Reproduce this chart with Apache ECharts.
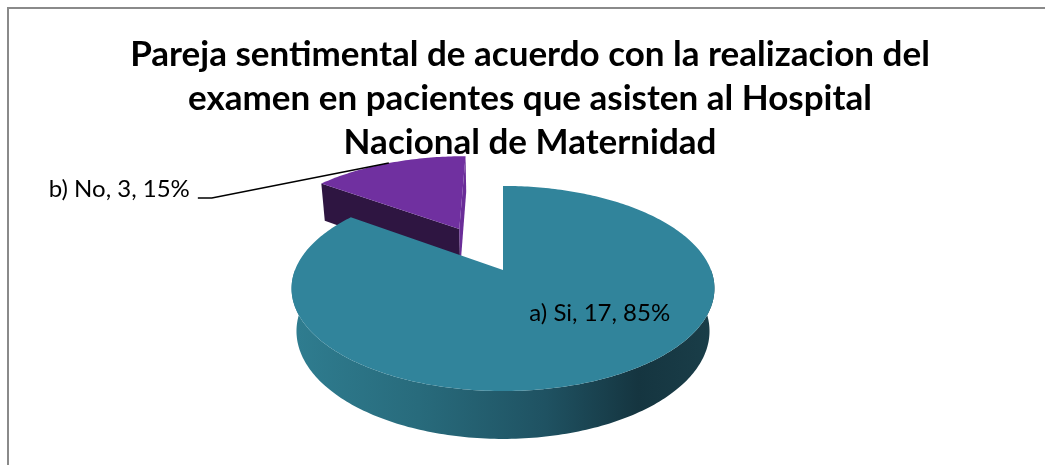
<!DOCTYPE html>
<html>
<head>
<meta charset="utf-8">
<script src="https://cdn.jsdelivr.net/npm/echarts@6/dist/echarts.min.js"></script>
<style>
  html, body { margin: 0; padding: 0; background: #ffffff; }
  #frame {
    position: absolute; left: 7px; top: 7px; width: 1100px; height: 520px;
    border-left: 2px solid #8a8a8a; border-top: 2px solid #8a8a8a;
  }
  #chart { position: absolute; left: 0; top: 0; width: 1045px; height: 465px; }
</style>
</head>
<body>
<div id="frame"></div>
<div id="chart"></div>
<script>
// ---- data ----
const titleLines = [
  'Pareja sentimental de acuerdo con la realizacion del',
  'examen en pacientes que asisten al Hospital',
  'Nacional de Maternidad'
];
const categories = ['a) Si', 'b) No'];
const counts = [17, 3];

// ---- look ----
const topColors = ['#31849b', '#7030a0'];
const wallColors = ['#1f5566', '#2e1541'];
const edgeColors = ['#24606f', '#6a2d98'];
const explode = { 'b) No': 0.5 };           // pull-out distance, in radii

// perspective camera for the tilted pie (unit radius)
const VIEW = { cx: 503, cy: 270, focal: 1015, dist: 4.88, tilt: 28.5, thick: 0.236 };
const INSIDE_LABEL = { radius: 0.59, turn: -20 };
const OUTSIDE_LABEL = { dx: -177, dy: 35, tail: 14, gap: 8, rise: 9 };

const total = counts.reduce((s, v) => s + v, 0);
const rad = d => d * Math.PI / 180;
const ct = Math.cos(rad(VIEW.tilt)), st = Math.sin(rad(VIEW.tilt));
const camera = [0, VIEW.dist * st, -VIEW.dist * ct];

function project(X, Y, Z) {
  const d = VIEW.dist + Z * ct - Y * st;
  const v = Z * st + Y * ct;
  return [VIEW.cx + VIEW.focal * X / d, VIEW.cy - VIEW.focal * v / d];
}

function arc(from, to, r, y, ox, oz) {
  const pts = [];
  const n = Math.max(2, Math.ceil(Math.abs(to - from)));
  for (let k = 0; k <= n; k++) {
    const a = rad(from + (to - from) * k / n);
    pts.push(project(ox + r * Math.sin(a), y, oz + r * Math.cos(a)));
  }
  return pts;
}

function renderSlice(params, api) {
  const i = params.dataIndex;
  const value = api.value(0);
  let before = 0;
  for (let k = 0; k < i; k++) before += counts[k];
  const a0 = before / total * 360;
  const a1 = (before + value) / total * 360;
  const mid = (a0 + a1) / 2;
  const ex = explode[categories[i]] || 0;
  const ox = Math.sin(rad(mid)) * ex, oz = Math.cos(rad(mid)) * ex;
  const H = VIEW.thick;

  // farther slices are painted first
  const depthZ = oz + 0.5 * Math.cos(rad(mid));
  const base = Math.round((10 - depthZ) * 100);
  const children = [];

  // flat cut faces at both ends of the slice
  [[a0, -1], [a1, 1]].forEach(([a, sgn]) => {
    const s = Math.sin(rad(a)), c = Math.cos(rad(a));
    const n = [sgn * c, 0, -sgn * s];
    const p = [ox + 0.5 * s, -H / 2, oz + 0.5 * c];
    const dot = n[0] * (camera[0] - p[0]) + n[1] * (camera[1] - p[1]) + n[2] * (camera[2] - p[2]);
    if (dot > 1e-6) {
      children.push({
        type: 'polygon', z2: base + 1,
        shape: { points: [
          project(ox, 0, oz), project(ox + s, 0, oz + c),
          project(ox + s, -H, oz + c), project(ox, -H, oz)
        ] },
        style: { fill: sgn < 0 ? wallColors[i] : edgeColors[i] }
      });
    }
  });

  // outer rim, front half only
  const lo = Math.max(a0, 90), hi = Math.min(a1, 270);
  if (hi > lo) {
    const up = arc(lo, hi, 1, 0, ox, oz);
    const down = arc(lo, hi, 1, -H, ox, oz).reverse();
    children.push({
      type: 'polygon', z2: base + 2,
      shape: { points: up.concat(down) },
      style: {
        fill: {
          type: 'linear', x: 0, y: 0, x2: 1, y2: 0,
          colorStops: [
            { offset: 0, color: '#2f7d90' },
            { offset: 0.3, color: '#286b7c' },
            { offset: 0.6, color: '#1f5262' },
            { offset: 0.82, color: '#153540' },
            { offset: 1, color: '#1a3e49' }
          ]
        }
      }
    });
  }

  // top face
  children.push({
    type: 'polygon', z2: base + 3,
    shape: { points: [project(ox, 0, oz)].concat(arc(a0, a1, 1, 0, ox, oz)) },
    style: { fill: topColors[i] }
  });

  // data label
  const pct = Math.round(value / total * 100);
  const text = categories[i] + ', ' + value + ', ' + pct + '%';
  const labelFont = '24px Lato';
  if (ex > 0) {
    const a = rad(mid);
    const start = project(ox + Math.sin(a), 0, oz + Math.cos(a));
    const elbow = [start[0] + OUTSIDE_LABEL.dx, start[1] + OUTSIDE_LABEL.dy];
    const end = [elbow[0] - OUTSIDE_LABEL.tail, elbow[1]];
    children.push({
      type: 'polyline', z2: 5000,
      shape: { points: [start, elbow, end] },
      style: { stroke: '#000000', lineWidth: 1.5, fill: null }
    });
    children.push({
      type: 'text', z2: 5001,
      x: end[0] - OUTSIDE_LABEL.gap, y: end[1] - OUTSIDE_LABEL.rise,
      style: { text: text, font: labelFont, fill: '#000000', align: 'right', verticalAlign: 'middle' }
    });
  } else {
    const a = rad(mid + INSIDE_LABEL.turn);
    const pos = project(ox + INSIDE_LABEL.radius * Math.sin(a), 0, oz + INSIDE_LABEL.radius * Math.cos(a));
    children.push({
      type: 'text', z2: 5001,
      x: pos[0], y: pos[1],
      style: { text: text, font: labelFont, fill: '#000000', align: 'center', verticalAlign: 'middle' }
    });
  }

  return { type: 'group', children: children };
}

const chart = echarts.init(document.getElementById('chart'), null, { renderer: 'canvas' });
chart.setOption({
  animation: false,
  backgroundColor: 'transparent',
  title: {
    text: titleLines.join('\n'),
    left: 525, top: 28, textAlign: 'center',
    textStyle: { fontFamily: 'Lato', fontWeight: 'bold', fontSize: 35, lineHeight: 44, color: '#000000' }
  },
  series: [{
    type: 'custom',
    coordinateSystem: 'none',
    renderItem: renderSlice,
    data: categories.map((name, i) => ({ name: name, value: counts[i] }))
  }]
});
</script>
</body>
</html>
